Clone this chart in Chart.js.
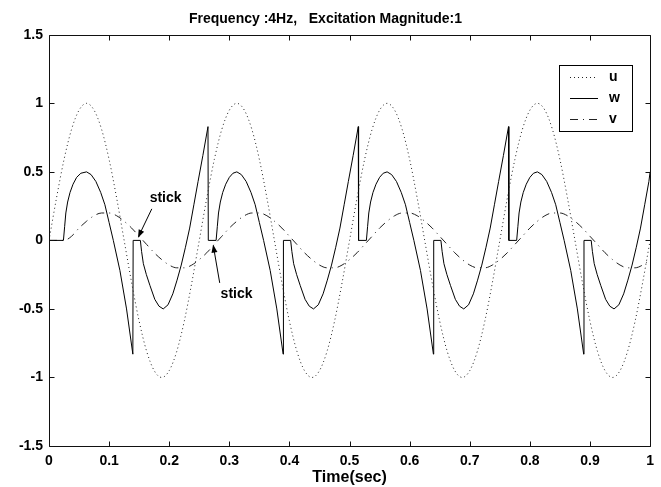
<!DOCTYPE html>
<html>
<head>
<meta charset="utf-8">
<script src="https://cdn.jsdelivr.net/npm/chart.js@4.4.0/dist/chart.umd.min.js"></script>
<style>
  html, body { margin: 0; padding: 0; background: #fff; }
</style>
</head>
<body>
<canvas id="chart_frictionResponse" width="661" height="487"></canvas>
<script>
// time samples for the smooth curves u and v (sec)
var sampleTime = [0,0.0125,0.025,0.0375,0.05,0.0625,0.075,0.0875,0.1,0.1125,0.125,0.1375,0.15,0.1625,0.175,0.1875,0.2,0.2125,0.225,0.2375,
  0.25,0.2625,0.275,0.2875,0.3,0.3125,0.325,0.3375,0.35,0.3625,0.375,0.3875,0.4,0.4125,0.425,0.4375,0.45,0.4625,0.475,0.4875,
  0.5,0.5125,0.525,0.5375,0.55,0.5625,0.575,0.5875,0.6,0.6125,0.625,0.6375,0.65,0.6625,0.675,0.6875,0.7,0.7125,0.725,0.7375,
  0.75,0.7625,0.775,0.7875,0.8,0.8125,0.825,0.8375,0.85,0.8625,0.875,0.8875,0.9,0.9125,0.925,0.9375,0.95,0.9625,0.975,0.9875,1];

var uValues = [0,0.31,0.59,0.81,0.95,1,0.95,0.81,0.59,0.31,0,-0.31,-0.59,-0.81,-0.95,-1,-0.95,-0.81,-0.59,-0.31,
  0,0.31,0.59,0.81,0.95,1,0.95,0.81,0.59,0.31,0,-0.31,-0.59,-0.81,-0.95,-1,-0.95,-0.81,-0.59,-0.31,
  0,0.31,0.59,0.81,0.95,1,0.95,0.81,0.59,0.31,0,-0.31,-0.59,-0.81,-0.95,-1,-0.95,-0.81,-0.59,-0.31,
  0,0.31,0.59,0.81,0.95,1,0.95,0.81,0.59,0.31,0,-0.31,-0.59,-0.81,-0.95,-1,-0.95,-0.81,-0.59,-0.31,0];

var vValues = [0,0,0,0.03,0.09,0.14,0.18,0.2,0.2,0.18,0.14,0.09,0.03,-0.03,-0.09,-0.14,-0.18,-0.2,-0.2,-0.18,
  -0.14,-0.09,-0.03,0.03,0.09,0.14,0.18,0.2,0.2,0.18,0.14,0.09,0.03,-0.03,-0.09,-0.14,-0.18,-0.2,-0.2,-0.18,
  -0.14,-0.09,-0.03,0.03,0.09,0.14,0.18,0.2,0.2,0.18,0.14,0.09,0.03,-0.03,-0.09,-0.14,-0.18,-0.2,-0.2,-0.18,
  -0.14,-0.09,-0.03,0.03,0.09,0.14,0.18,0.2,0.2,0.18,0.14,0.09,0.03,-0.03,-0.09,-0.14,-0.18,-0.2,-0.2,-0.18,-0.14];

// w has stick phases and jumps, so it gets its own time points
var wTime = [
  0,0.024,0.026,0.028,0.031,0.035,0.04,0.046,0.053,0.0625,0.07,0.078,0.086,0.093,0.1,0.107,0.118,0.129,0.1395,0.14,
  0.152,0.154,0.157,0.162,0.168,0.176,0.183,0.19,0.198,0.206,0.213,0.22,0.227,0.234,0.241,0.248,0.256,0.2645,
  0.265,0.278,0.28,0.282,0.285,0.289,0.294,0.3,0.306,0.3125,0.32,0.328,0.336,0.343,0.35,0.357,0.368,0.379,0.3895,0.39,
  0.402,0.404,0.407,0.412,0.418,0.426,0.433,0.44,0.448,0.456,0.463,0.47,0.477,0.484,0.491,0.498,0.506,0.5145,
  0.515,0.528,0.53,0.532,0.535,0.539,0.544,0.55,0.556,0.5625,0.57,0.578,0.586,0.593,0.6,0.607,0.618,0.629,0.6395,0.64,
  0.652,0.654,0.657,0.662,0.668,0.676,0.683,0.69,0.698,0.706,0.713,0.72,0.727,0.734,0.741,0.748,0.756,0.7645,
  0.765,0.778,0.78,0.782,0.785,0.789,0.794,0.8,0.806,0.8125,0.82,0.828,0.836,0.843,0.85,0.857,0.868,0.879,0.8895,0.89,
  0.902,0.904,0.907,0.912,0.918,0.926,0.933,0.94,0.948,0.956,0.963,0.97,0.977,0.984,0.991,0.998,1];
var wValues = [
  0,0,0.1,0.2,0.28,0.35,0.41,0.46,0.49,0.5,0.48,0.43,0.35,0.26,0.13,0,-0.22,-0.5,-0.83,0,
  0,-0.08,-0.17,-0.25,-0.33,-0.43,-0.48,-0.5,-0.47,-0.39,-0.29,-0.18,-0.05,0.09,0.26,0.43,0.62,0.83,
  0,0,0.1,0.2,0.28,0.35,0.41,0.46,0.49,0.5,0.48,0.43,0.35,0.26,0.13,0,-0.22,-0.5,-0.83,0,
  0,-0.08,-0.17,-0.25,-0.33,-0.43,-0.48,-0.5,-0.47,-0.39,-0.29,-0.18,-0.05,0.09,0.26,0.43,0.62,0.83,
  0,0,0.1,0.2,0.28,0.35,0.41,0.46,0.49,0.5,0.48,0.43,0.35,0.26,0.13,0,-0.22,-0.5,-0.83,0,
  0,-0.08,-0.17,-0.25,-0.33,-0.43,-0.48,-0.5,-0.47,-0.39,-0.29,-0.18,-0.05,0.09,0.26,0.43,0.62,0.83,
  0,0,0.1,0.2,0.28,0.35,0.41,0.46,0.49,0.5,0.48,0.43,0.35,0.26,0.13,0,-0.22,-0.5,-0.83,0,
  0,-0.08,-0.17,-0.25,-0.33,-0.43,-0.48,-0.5,-0.47,-0.39,-0.29,-0.18,-0.05,0.09,0.26,0.43,0.5];

var xTicks = [0,0.1,0.2,0.3,0.4,0.5,0.6,0.7,0.8,0.9,1];
var xTickLabels = ['0','0.1','0.2','0.3','0.4','0.5','0.6','0.7','0.8','0.9','1'];
var yTicks = [-1.5,-1,-0.5,0,0.5,1,1.5];
var yTickLabels = ['-1.5','-1','-0.5','0','0.5','1','1.5'];

// "stick" callouts, in data units: label centre, arrow tail, arrow tip
var stickNotes = [
  { text: 'stick', label: [0.194, 0.31], from: [0.171, 0.23], to: [0.148, 0.02] },
  { text: 'stick', label: [0.312, -0.39], from: [0.284, -0.31], to: [0.273, -0.03] }
];

var FONT = '"Liberation Sans", Arial, sans-serif';
Chart.defaults.font.family = FONT;
Chart.defaults.color = '#000';

function toPoints(xs, ys) {
  return xs.map(function (x, i) { return { x: x, y: ys[i] }; });
}

var frameTicks = {
  id: 'frameTicks',
  afterDatasetsDraw: function (chart) {
    var ctx = chart.ctx, a = chart.chartArea;
    var xs = chart.scales.x, ys = chart.scales.y;
    var L = Math.round(a.left) + 0.5, R = Math.round(a.right) + 0.5;
    var T = Math.round(a.top) + 0.5, B = Math.round(a.bottom) + 0.5;
    ctx.save();
    ctx.strokeStyle = '#111';
    ctx.lineWidth = 1;
    ctx.beginPath();
    ctx.rect(L, T, R - L, B - T);
    xTicks.forEach(function (v) {
      var px = Math.round(xs.getPixelForValue(v)) + 0.5;
      ctx.moveTo(px, B); ctx.lineTo(px, B - 5);
      ctx.moveTo(px, T); ctx.lineTo(px, T + 5);
    });
    yTicks.forEach(function (v) {
      var py = Math.round(ys.getPixelForValue(v)) + 0.5;
      ctx.moveTo(L, py); ctx.lineTo(L + 5, py);
      ctx.moveTo(R, py); ctx.lineTo(R - 5, py);
    });
    ctx.stroke();
    ctx.restore();
  }
};

var stickCallouts = {
  id: 'stickCallouts',
  afterDatasetsDraw: function (chart) {
    var ctx = chart.ctx, xs = chart.scales.x, ys = chart.scales.y;
    ctx.save();
    ctx.strokeStyle = '#000';
    ctx.fillStyle = '#000';
    ctx.lineWidth = 1;
    ctx.font = 'bold 14px ' + FONT;
    ctx.textAlign = 'center';
    ctx.textBaseline = 'middle';
    stickNotes.forEach(function (n) {
      var x0 = xs.getPixelForValue(n.from[0]), y0 = ys.getPixelForValue(n.from[1]);
      var x1 = xs.getPixelForValue(n.to[0]), y1 = ys.getPixelForValue(n.to[1]);
      var ang = Math.atan2(y1 - y0, x1 - x0);
      ctx.beginPath();
      ctx.moveTo(x0, y0);
      ctx.lineTo(x1 - 6 * Math.cos(ang), y1 - 6 * Math.sin(ang));
      ctx.stroke();
      ctx.beginPath();
      ctx.moveTo(x1, y1);
      ctx.lineTo(x1 - 8 * Math.cos(ang) + 3 * Math.sin(ang), y1 - 8 * Math.sin(ang) - 3 * Math.cos(ang));
      ctx.lineTo(x1 - 8 * Math.cos(ang) - 3 * Math.sin(ang), y1 - 8 * Math.sin(ang) + 3 * Math.cos(ang));
      ctx.closePath();
      ctx.fill();
      ctx.fillText(n.text, xs.getPixelForValue(n.label[0]), ys.getPixelForValue(n.label[1]));
    });
    ctx.restore();
  }
};

var boxLegend = {
  id: 'boxLegend',
  afterDatasetsDraw: function (chart) {
    var ctx = chart.ctx, a = chart.chartArea;
    var x0 = Math.round(a.right) - 91, y0 = Math.round(a.top) + 30, w = 73, h = 66;
    ctx.save();
    ctx.fillStyle = '#fff';
    ctx.fillRect(x0, y0, w, h);
    ctx.strokeStyle = '#000';
    ctx.lineWidth = 1;
    ctx.strokeRect(x0 + 0.5, y0 + 0.5, w, h);
    ctx.font = 'bold 14px ' + FONT;
    ctx.fillStyle = '#000';
    ctx.textAlign = 'left';
    ctx.textBaseline = 'middle';
    chart.data.datasets.forEach(function (ds, i) {
      var y = Math.round(y0 + 12 + i * 21.2) + 0.5;
      ctx.strokeStyle = ds.borderColor;
      ctx.setLineDash(ds.borderDash || []);
      ctx.beginPath();
      ctx.moveTo(x0 + 11, y);
      ctx.lineTo(x0 + 39, y);
      ctx.stroke();
      ctx.setLineDash([]);
      ctx.fillText(ds.label, x0 + 50, y);
    });
    ctx.restore();
  }
};

var chart_frictionResponse = new Chart(document.getElementById('chart_frictionResponse'), {
  type: 'line',
  data: {
    datasets: [
      {
        label: 'u',
        data: toPoints(sampleTime, uValues),
        borderColor: '#222',
        borderWidth: 1,
        borderDash: [1, 3],
        cubicInterpolationMode: 'monotone',
        pointRadius: 0
      },
      {
        label: 'w',
        data: toPoints(wTime, wValues),
        borderColor: '#000',
        borderWidth: 1,
        tension: 0,
        pointRadius: 0
      },
      {
        label: 'v',
        data: toPoints(sampleTime, vValues),
        borderColor: '#222',
        borderWidth: 1,
        borderDash: [8, 5, 1, 5],
        cubicInterpolationMode: 'monotone',
        pointRadius: 0
      }
    ]
  },
  options: {
    animation: false,
    responsive: false,
    layout: { padding: { left: 0, right: 10, top: 0, bottom: 0 } },
    plugins: {
      legend: { display: false },
      tooltip: { enabled: false },
      title: {
        display: true,
        text: 'Frequency :4Hz,   Excitation Magnitude:1',
        font: { size: 14, weight: 'bold' },
        color: '#000',
        padding: { top: 11, bottom: 7 }
      }
    },
    scales: {
      x: {
        type: 'linear',
        min: 0,
        max: 1,
        afterBuildTicks: function (s) { s.ticks = xTicks.map(function (v) { return { value: v }; }); },
        afterFit: function (s) { s.height = 41; },
        grid: { display: false, drawTicks: false },
        border: { display: false },
        ticks: {
          autoSkip: false,
          maxRotation: 0,
          padding: 7,
          font: { size: 14, weight: 'bold' },
          callback: function (v) { return xTickLabels[xTicks.indexOf(v)]; }
        },
        title: {
          display: true,
          text: 'Time(sec)',
          font: { size: 16, weight: 'bold' },
          padding: { top: 0, bottom: 0 }
        }
      },
      y: {
        type: 'linear',
        min: -1.5,
        max: 1.5,
        afterBuildTicks: function (s) { s.ticks = yTicks.map(function (v) { return { value: v }; }); },
        afterFit: function (s) { s.width = 49; },
        grid: { display: false, drawTicks: false },
        border: { display: false },
        ticks: {
          autoSkip: false,
          padding: 6,
          font: { size: 14, weight: 'bold' },
          callback: function (v) { return yTickLabels[yTicks.indexOf(v)]; }
        }
      }
    }
  },
  plugins: [frameTicks, stickCallouts, boxLegend]
});
</script>
</body>
</html>
